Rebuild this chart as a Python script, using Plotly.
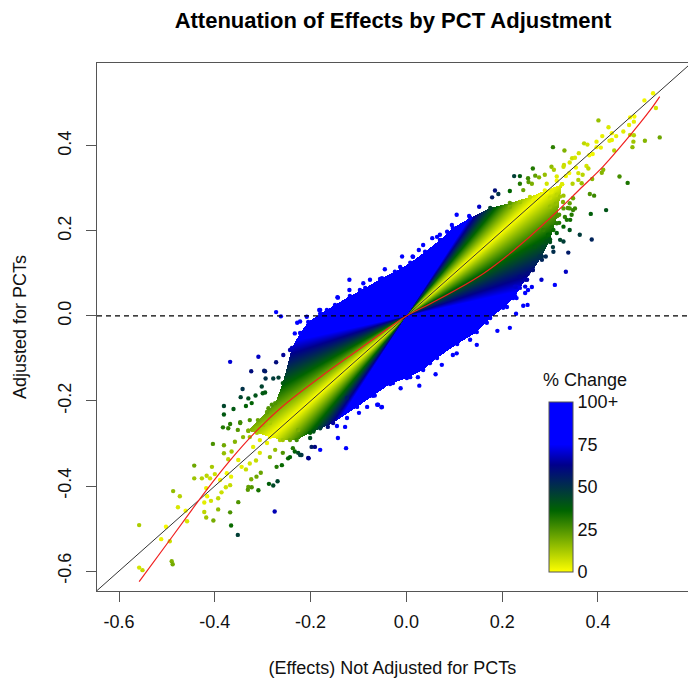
import numpy as np
import plotly.graph_objects as go

# Isolated points (effect not adjusted, effect adjusted)
pts_x = [.515,.497,.521,.401,.467,.476,.465,.475,.422,.429,.453,.438,.467,.475,.474,.498,.529,.472,.424,.429,.397,.409,.371,.378,.397,.406,.434,.306,.330,.360,.389,.382,.346,.352,.341,.329,.328,.354,.303,.308,.376,.380,.411,.408,.264,.445,.462,.225,.237,.254,.269,.277,.289,.314,.340,.333,.359,.368,.359,.388,.347,.366,.314,.293,.255,.237,.262,.185,.192,.179,.216,.244,.328,.383,.392,.348,.385,.417,.341,.362,.387,.333,.310,.282,.338,.307,.291,.341,.328,.105,.095,.070,.152,.131,.054,.026,.013,-.009,
 -.558,-.558,-.551,-.502,-.512,-.494,-.490,-.488,-.487,-.473,-.477,-.461,-.458,-.443,-.443,-.427,-.417,-.406,-.410,-.400,-.389,-.366,-.375,-.418,-.416,-.422,-.408,-.393,-.386,-.368,-.377,-.393,-.422,-.418,-.403,-.351,-.368,-.366,-.352,-.275,-.330,-.323,-.331,-.309,-.287,-.278,-.269,-.324,-.313,-.304,-.271,-.260,-.204,-.327,-.314,-.344,-.335,-.351,-.372,-.381,-.381,-.404,-.365,-.383,-.372,-.368,-.347,-.381,-.381,-.361,-.342,-.346,-.330,-.335,-.323,-.315,-.302,-.295,-.294,-.324,-.295,-.233,-.247,-.219,-.198,-.194,-.226,
 -.368,-.309,-.297,-.272,-.262,-.119,-.144,-.090,-.045,-.180,-.222,-.233,-.243,-.257,-.272,-.278,-.267,-.300,.216,.190,.147,.105,.074,.061,.027,-.012,-.059,-.052,-.066,-.104,-.119,-.143,-.182,.244,.253,.229,.230,
 -.288,-.281,-.327,-.347,-.352,-.341,-.358,-.327,-.312,-.299,-.285,-.306,-.320,-.291,-.274,-.306,-.285,-.258,-.243,-.237,-.222,-.205,-.264,-.243,-.226,-.201,-.180,-.164,-.145,-.191,-.180,-.143,-.128,-.124,-.126,-.099,-.082,-.051,-.061,
 .216,.237,.300,.312,.327,.337,.348,.319,.331,.342,.319,.304,.314,.296,.300,.321,.306,.285,.283,.264,.252,.231,.248,.262,
 -.228,-.208,-.166,-.097,-.076,-.051,-.013,.014,.035,.064,.085,.237,.223,.210,.181,.168,.133,.097,.056,.049,.024,.008,-.028,-.061,-.091,-.103,-.124,
 .265,.279,.293,.303,.314,.300,.321,.328,.341,.352,.345,.335,.314,.307,.328,.286,.293,.268,.279,.265,.254,.237,.227,.248,.254]
pts_y = [.524,.507,.489,.460,.467,.469,.449,.457,.444,.430,.434,.423,.426,.425,.410,.412,.420,.397,.412,.414,.410,.423,.406,.403,.397,.396,.389,.397,.389,.383,.381,.378,.371,.372,.361,.355,.351,.349,.351,.344,.353,.347,.344,.337,.347,.328,.313,.329,.329,.324,.330,.326,.332,.328,.336,.329,.336,.332,.320,.322,.311,.312,.318,.311,.315,.311,.311,.295,.287,.279,.294,.296,.283,.287,.283,.277,.240,.249,.253,.191,.180,.104,.073,.085,.149,.151,.140,.202,.175,.238,.214,.191,.257,.235,.183,.155,.140,.140,
 -.492,-.592,-.598,-.496,-.525,-.530,-.577,-.584,-.412,-.424,-.450,-.458,-.483,-.352,-.382,-.382,-.376,-.355,-.382,-.372,-.386,-.378,-.370,-.405,-.424,-.439,-.435,-.429,-.415,-.398,-.403,-.455,-.461,-.474,-.481,-.438,-.462,-.493,-.515,-.460,-.402,-.403,-.409,-.410,-.395,-.399,-.389,-.384,-.378,-.369,-.355,-.351,-.335,-.347,-.340,-.355,-.361,-.339,-.337,-.323,-.304,-.301,-.319,-.262,-.264,-.254,-.250,-.232,-.212,-.219,-.172,-.191,-.194,-.212,-.205,-.187,-.166,-.180,-.147,-.130,-.130,-.319,-.335,-.327,-.308,-.272,-.322,
 -.108,-.096,-.129,.009,-.001,.085,.044,.077,.110,.014,-.013,-.041,-.080,-.092,-.109,-.147,-.145,-.182,-.028,-.035,-.068,-.088,-.115,-.137,-.164,-.170,-.209,-.215,-.187,-.212,.061,.043,.014,.024,.026,.005,.042,
 -.217,-.209,-.245,-.252,-.268,-.285,-.296,-.285,-.264,-.256,-.252,-.292,-.308,-.299,-.315,-.322,-.332,-.322,-.332,-.311,-.327,-.334,-.292,-.292,-.268,-.287,-.264,-.261,-.259,-.308,-.315,-.287,-.261,-.240,-.311,-.228,-.214,-.214,-.209,
 .257,.268,.278,.264,.268,.254,.249,.238,.233,.226,.219,.209,.195,.191,.174,.179,.162,.162,.132,.108,.085,.068,.054,.068,
 -.016,-.002,.014,.061,.085,.089,.115,.139,.167,.186,.198,.066,.042,.021,.014,-.016,-.056,-.092,-.099,-.111,-.144,-.144,-.158,-.174,-.181,-.198,-.193,
 .273,.281,.292,.292,.285,.257,.281,.253,.265,.253,.238,.226,.218,.202,.210,.202,.175,.163,.140,.124,.100,.092,.069,.069,.061]

# Edge of the dense cloud
top_x = [-.33,-.31,-.291,-.274,-.258,-.239,-.222,-.205,-.180,-.149,-.118,-.086,-.055,-.024,.008,.039,.070,.097,.133,.175,.216,.258,.289,.325]
top_y = [-.27,-.245,-.226,-.205,-.158,-.075,-.040,-.014,.005,.026,.047,.066,.087,.104,.125,.151,.179,.207,.231,.254,.266,.280,.295,.310]
bot_x = [-.33,-.312,-.285,-.258,-.229,-.201,-.153,-.103,-.070,-.034,.001,.035,.064,.106,.147,.175,.202,.227,.248,.264,.283,.300,.315,.325]
bot_y = [-.27,-.275,-.285,-.292,-.292,-.275,-.252,-.214,-.188,-.160,-.146,-.127,-.099,-.066,-.038,-.005,.019,.047,.085,.108,.140,.180,.235,.310]

# Smoothed fit (red curve)
fit_x = [-.558,-.494,-.448,-.417,-.372,-.316,-.260,-.174,-.103,-.055,0,.049,.105,.161,.202,.258,.314,.362,.411,.467,.509,.529]
fit_y = [-.625,-.527,-.456,-.409,-.345,-.274,-.214,-.139,-.082,-.043,0,.028,.062,.100,.134,.187,.245,.298,.352,.425,.484,.516]

x_ticks = [-0.6, -0.4, -0.2, 0.0, 0.2, 0.4]
y_ticks = [-0.6, -0.4, -0.2, 0.0, 0.2, 0.4]
x_labels = ["-0.6", "-0.4", "-0.2", "0.0", "0.2", "0.4"]
y_labels = ["-0.6", "-0.4", "-0.2", "0.0", "0.2", "0.4"]
bar_ticks = [0, 25, 50, 75, 100]
bar_labels = ["0", "25", "50", "75", "100+"]

x_range = [-0.646, 0.588]
y_range = [-0.647, 0.595]


def pct_change(x, y):
    """The colour variable named in the legend: change relative to the unadjusted effect."""
    with np.errstate(divide="ignore", invalid="ignore"):
        return np.minimum(np.abs(np.asarray(x) - np.asarray(y)) / np.abs(np.asarray(x)) * 100, 100)


# Colour field restricted to the cloud's edge
gx = np.arange(-0.34, 0.34, 1 / 479)
gy = np.arange(-0.34, 0.33, 1 / 425)
X, Y = np.meshgrid(gx, gy)
Z = pct_change(X, Y)
upper = np.interp(gx, top_x, top_y)
lower = np.interp(gx, bot_x, bot_y)
inside = (gx >= top_x[0]) & (gx <= bot_x[-1])
Z[~((Y <= upper[None, :]) & (Y >= lower[None, :]) & inside[None, :])] = np.nan

FONT = "Liberation Sans, Arial, sans-serif"
AXIS = "#555555"
TEXT = "#111111"

fig = go.Figure()
fig.add_trace(go.Heatmap(x=gx, y=gy, z=Z, coloraxis="coloraxis", hoverinfo="skip", zsmooth=False))

dots_x = list(pts_x) + top_x + bot_x
dots_y = list(pts_y) + top_y + bot_y
fig.add_trace(go.Scatter(
    x=dots_x, y=dots_y, mode="markers",
    marker=dict(size=4.4, color=pct_change(dots_x, dots_y), coloraxis="coloraxis", line=dict(width=0)),
    showlegend=False))
fig.add_trace(go.Scatter(x=[x_range[0], x_range[1]], y=[x_range[0], x_range[1]], mode="lines",
                         line=dict(color="#333333", width=1), showlegend=False))
fig.add_trace(go.Scatter(x=x_range, y=[0, 0], mode="lines",
                         line=dict(color="black", width=1.2, dash="5px,4px"), showlegend=False))
fig.add_trace(go.Scatter(x=fit_x, y=fit_y, mode="lines",
                         line=dict(color="#f02020", width=1.2, shape="spline"), showlegend=False))

axis_common = dict(showgrid=False, zeroline=False, showline=True, linecolor=AXIS, linewidth=1,
                   mirror=True, ticks="outside", ticklen=10, tickcolor=AXIS, tickwidth=1,
                   tickfont=dict(family=FONT, size=18, color=TEXT))
W, H = 688, 683
fig.update_layout(
    width=W, height=H, autosize=False, hovermode=False,
    margin=dict(l=97, r=0, t=63, b=92),
    paper_bgcolor="white", plot_bgcolor="white", showlegend=False,
    title=dict(text="<b>Attenuation of Effects by PCT Adjustment</b>", x=393 / W, xanchor="center",
               y=1 - 20 / H, yanchor="middle", font=dict(family=FONT, size=22, color="black")),
    xaxis=dict(range=x_range, tickvals=x_ticks, ticktext=x_labels, ticklabelstandoff=4,
               title=dict(text="(Effects) Not Adjusted for PCTs", standoff=30,
                          font=dict(family=FONT, size=18, color=TEXT)), **axis_common),
    yaxis=dict(range=y_range, tickvals=y_ticks, ticktext=y_labels, tickangle=-90, ticklabelstandoff=8,
               title=dict(text="Adjusted for PCTs", standoff=23,
                          font=dict(family=FONT, size=18, color=TEXT)), **axis_common),
    coloraxis=dict(
        cmin=0, cmax=100,
        colorscale=[[0, "#ffff00"], [0.36, "#006400"], [0.63, "#00008b"], [0.75, "#0000ff"], [1, "#0000ff"]],
        colorbar=dict(lenmode="pixels", len=170, thicknessmode="pixels", thickness=24,
                      x=(549 - 97) / 591, xanchor="left", xpad=0,
                      y=(591 - 571.7) / 528, yanchor="bottom", ypad=0,
                      tickvals=bar_ticks, ticktext=bar_labels, ticks="", outlinecolor=AXIS, outlinewidth=1,
                      tickfont=dict(family=FONT, size=18, color=TEXT)),
    ),
    annotations=[dict(text="% Change", xref="paper", yref="paper", x=(585 - 97) / 591, y=(591 - 380) / 528,
                      xanchor="center", yanchor="middle", showarrow=False,
                      font=dict(family=FONT, size=18, color=TEXT))],
)
fig.write_html("out.html", config={"displayModeBar": False},
               post_script="document.body.style.margin='0';document.documentElement.style.overflow='hidden';")
